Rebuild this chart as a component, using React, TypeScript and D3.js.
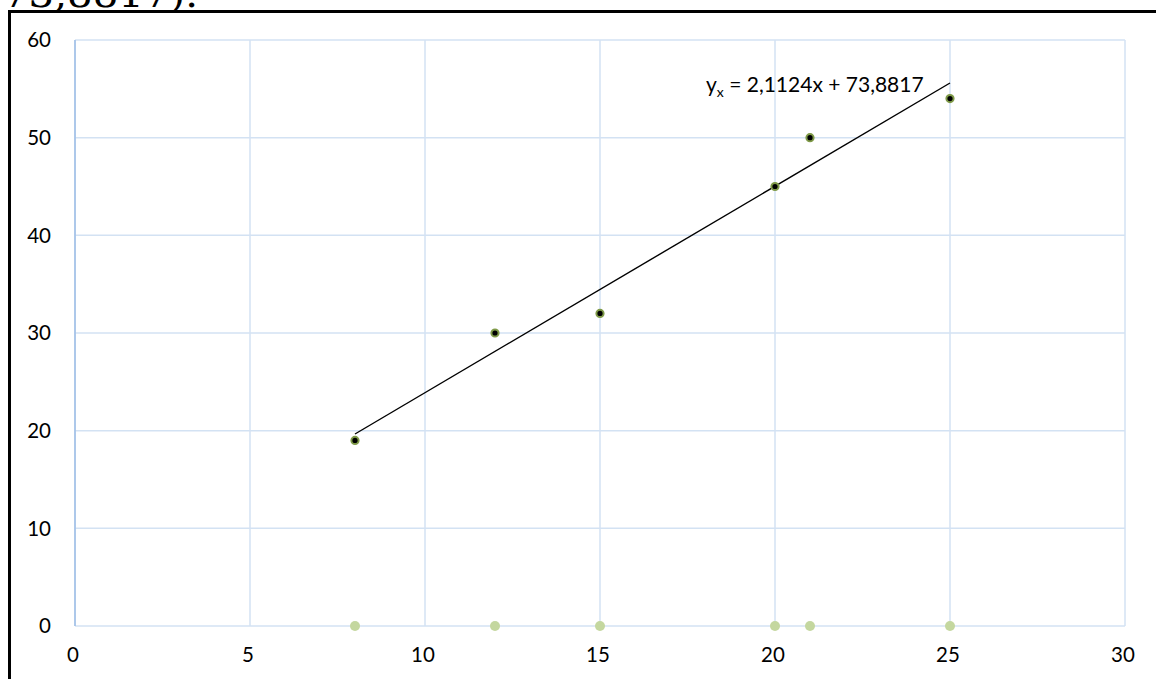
import React from "react";
import * as d3 from "d3";

const xValues = [8, 12, 15, 20, 21, 25];
const yValues = [19, 30, 32, 45, 50, 54];
const xTicks = [0, 5, 10, 15, 20, 25, 30];
const yTicks = [0, 10, 20, 30, 40, 50, 60];
const equationMain = " = 2,1124x + 73,8817";
const topText = "73,8817).";

const W = 1156;
const H = 679;

export default function App() {
  const x = d3.scaleLinear().domain([0, 30]).range([75, 1125]);
  const y = d3.scaleLinear().domain([0, 60]).range([626, 40]);

  // least squares fit from the points
  const n = xValues.length;
  const mx = d3.mean(xValues) as number;
  const my = d3.mean(yValues) as number;
  let sxy = 0, sxx = 0;
  for (let i = 0; i < n; i++) {
    sxy += (xValues[i] - mx) * (yValues[i] - my);
    sxx += (xValues[i] - mx) ** 2;
  }
  const slope = sxy / sxx;
  const intercept = my - slope * mx;
  const x0 = d3.min(xValues) as number;
  const x1 = d3.max(xValues) as number;
  const line = d3.line<number>().x((d) => x(d)).y((d) => y(slope * d + intercept));

  const font = "Lato, 'Liberation Sans', sans-serif";

  return (
    <svg
      width={W}
      height={H}
      style={{ position: "absolute", left: 0, top: 0, background: "#fff" }}
    >
      <text
        x={3}
        y={7}
        fontFamily="'DejaVu Serif', serif"
        fontSize={38}
        textLength={195}
        lengthAdjust="spacingAndGlyphs"
        fill="#000"
      >
        {topText}
      </text>
      <rect x={9.5} y={11.5} width={1300} height={800} fill="#fff" stroke="#000" strokeWidth={3} />

      {/* grid */}
      {xTicks.map((t) => (
        <line key={"gx" + t} x1={x(t)} x2={x(t)} y1={y(0)} y2={y(60)} stroke="#d3e2f3" strokeWidth={1.5} />
      ))}
      {yTicks.map((t) => (
        <line key={"gy" + t} x1={x(0)} x2={x(30)} y1={y(t)} y2={y(t)} stroke="#d3e2f3" strokeWidth={1.5} />
      ))}
      <line x1={x(0)} x2={x(0)} y1={y(0)} y2={y(60)} stroke="#9dbde6" strokeWidth={1.5} />

      {/* tick labels */}
      {yTicks.map((t) => (
        <text key={"ty" + t} x={51} y={y(t)} dy="0.36em" textAnchor="end" fontFamily={font} fontSize={20.5} fill="#000">
          {t}
        </text>
      ))}
      {xTicks.map((t) => (
        <text key={"tx" + t} x={x(t) - 2} y={655} dy="0.36em" textAnchor="middle" fontFamily={font} fontSize={20.5} fill="#000">
          {t}
        </text>
      ))}

      {/* projections on the x axis */}
      {xValues.map((v, i) => (
        <circle key={"z" + i} cx={x(v)} cy={y(0)} r={5} fill="#c4d79f" />
      ))}

      {/* trend line */}
      <path d={line([x0, x1]) || ""} fill="none" stroke="#000" strokeWidth={1.4} />

      {/* points */}
      {xValues.map((v, i) => (
        <circle key={"p" + i} cx={x(v)} cy={y(yValues[i])} r={3.6} fill="#000" stroke="#7f9a48" strokeWidth={2} />
      ))}

      {/* equation */}
      <text x={706} y={92} fontFamily={font} fontSize={21} fill="#000">
        <tspan>y</tspan>
        <tspan fontSize={14} dy={5}>x</tspan>
        <tspan dy={-5}>{equationMain}</tspan>
      </text>
    </svg>
  );
}
